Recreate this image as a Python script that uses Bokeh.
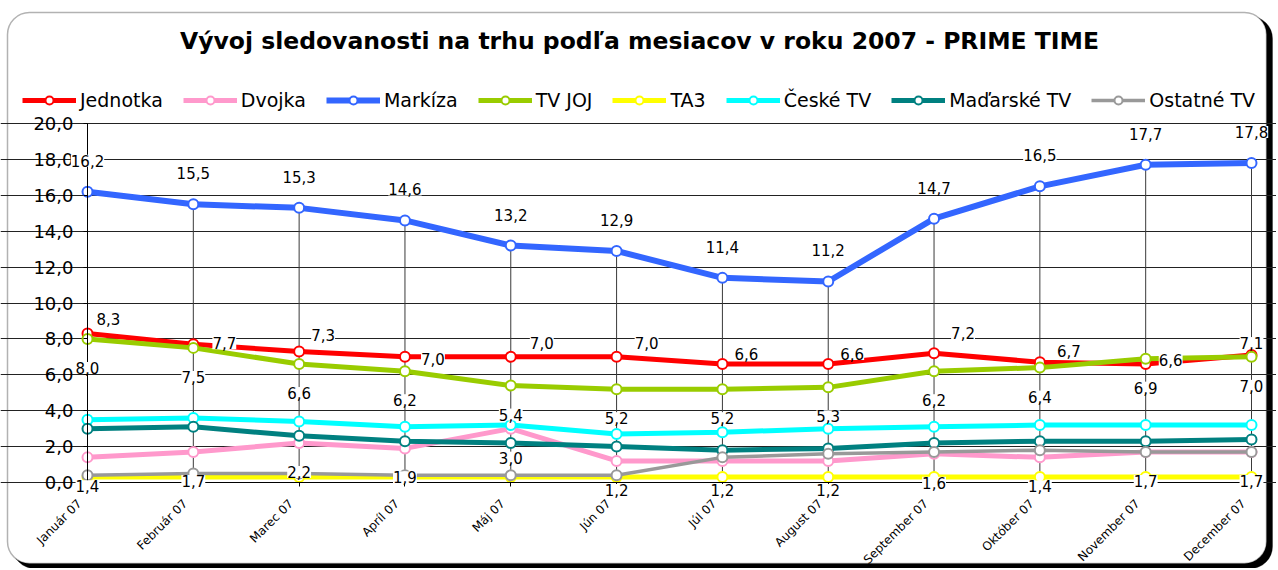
import math
from bokeh.plotting import figure
from bokeh.models import (Range1d, FixedTicker, ColumnDataSource, LabelSet, Label, LinearAxis,
                          Legend, LegendItem, BoxAnnotation)
from bokeh.core.properties import value
from bokeh.embed import file_html
from bokeh.resources import INLINE

# ---------------- data ----------------
months = ["Január 07", "Február 07", "Marec 07", "Apríl 07", "Máj 07", "Jún 07",
          "Júl 07", "August 07", "September 07", "Október 07", "November 07", "December 07"]
jednotka = [8.3, 7.7, 7.3, 7.0, 7.0, 7.0, 6.6, 6.6, 7.2, 6.7, 6.6, 7.1]
dvojka = [1.4, 1.7, 2.2, 1.9, 3.0, 1.2, 1.2, 1.2, 1.6, 1.4, 1.7, 1.7]
markiza = [16.2, 15.5, 15.3, 14.6, 13.2, 12.9, 11.4, 11.2, 14.7, 16.5, 17.7, 17.8]
tv_joj = [8.0, 7.5, 6.6, 6.2, 5.4, 5.2, 5.2, 5.3, 6.2, 6.4, 6.9, 7.0]
ta3 = [0.3, 0.3, 0.3, 0.3, 0.3, 0.3, 0.3, 0.3, 0.3, 0.3, 0.3, 0.3]
ceske_tv = [3.5, 3.6, 3.4, 3.1, 3.2, 2.7, 2.8, 3.0, 3.1, 3.2, 3.2, 3.2]
madarske_tv = [3.0, 3.1, 2.6, 2.3, 2.2, 2.0, 1.8, 1.9, 2.2, 2.3, 2.3, 2.4]
ostatne_tv = [0.4, 0.5, 0.5, 0.4, 0.4, 0.4, 1.4, 1.6, 1.7, 1.8, 1.7, 1.7]
y_ticks = [0, 2, 4, 6, 8, 10, 12, 14, 16, 18, 20]
title_text = "Vývoj sledovanosti na trhu podľa mesiacov v roku 2007 - PRIME TIME"

# label placement (pixel offsets of the data labels, styling only)
jednotka_label_dx = [21, 31, 24, 28, 31, 30, 24, 24, 29, 29, 25, 0]
jednotka_label_dy = [15, 1, 16, -2, 14, 14, 10, 10, 20, 11, 4, 12]

FONT = "DejaVu Sans"
x = list(range(len(months)))

def fmt(v):
    return f"{v:.1f}".replace(".", ",")

# ---------------- layout (pixels) ----------------
W, H = 1276, 568
PL, PR, PT, PB = 87, 1251, 123, 482      # plot area: first/last month, 20 and 0
XMIN, XMAX, YMIN, YMAX = 0, len(months) - 1, 0, 20
xppu = (PR - PL) / (XMAX - XMIN)
yppu = (PB - PT) / (YMAX - YMIN)
x_range = Range1d(XMIN - PL / xppu, XMAX + (W - PR) / xppu)
y_range = Range1d(YMIN - (H - PB) / yppu, YMAX + PT / yppu)

p = figure(width=W, height=H, output_backend="svg", toolbar_location=None,
           x_range=x_range, y_range=y_range,
           min_border=0, min_border_left=0, min_border_right=0, min_border_top=0, min_border_bottom=0,
           background_fill_color="white", border_fill_color="white", outline_line_color=None)

def sy(py):
    return H - py

# rounded border with shadow
shadow = BoxAnnotation(left=12, right=1272, top=sy(16), bottom=sy(568),
                       left_units="screen", right_units="screen", top_units="screen", bottom_units="screen",
                       fill_color="black", fill_alpha=1, line_color="black", line_width=1,
                       border_radius=22, level="image")
frame_box = BoxAnnotation(left=7, right=1266, top=sy(12), bottom=sy(563),
                          left_units="screen", right_units="screen", top_units="screen", bottom_units="screen",
                          fill_color="white", fill_alpha=1, line_color="black", line_width=1.5,
                          border_radius=22, level="image")
p.add_layout(shadow)
p.add_layout(frame_box)

# axes
yax = p.yaxis[0]
yax.fixed_location = XMIN
yax.ticker = FixedTicker(ticks=y_ticks)
yax.major_label_overrides = {t: fmt(t) for t in y_ticks}
yax.bounds = (YMIN, YMAX)
yax.axis_line_color = "black"
yax.major_tick_line_color = "black"
yax.major_tick_out = 4
yax.major_tick_in = 0
yax.minor_tick_line_color = None
yax.major_label_standoff = 10
yax.major_label_text_font = FONT
yax.major_label_text_font_size = "18px"
yax.major_label_text_color = "black"

xax = p.xaxis[0]
xax.fixed_location = YMIN
xax.ticker = FixedTicker(ticks=x)
xax.major_label_overrides = {i: "" for i in x}
xax.major_label_text_color = None
xax.bounds = (XMIN, XMAX)
xax.axis_line_color = "black"
xax.major_tick_line_color = "black"
xax.major_tick_out = 4
xax.major_tick_in = 0
xax.minor_tick_line_color = None

# month labels: a second axis at the month positions, nudged like the reference's slanted labels
LABEL_NUDGE = 8 / xppu
label_ticks = [i - LABEL_NUDGE for i in x]
lab_ax = LinearAxis(fixed_location=YMIN, ticker=FixedTicker(ticks=label_ticks),
                    major_label_overrides={t: m for t, m in zip(label_ticks, months)},
                    axis_line_color=None, major_tick_line_color=None, minor_tick_line_color=None,
                    major_tick_out=0, major_tick_in=0, major_label_standoff=19,
                    major_label_orientation=math.pi / 4, major_label_text_font=FONT,
                    major_label_text_font_size="12px", major_label_text_color="black")
p.add_layout(lab_ax, "below")

p.xgrid.visible = False
p.ygrid.ticker = FixedTicker(ticks=y_ticks)
p.ygrid.bounds = (XMIN, XMAX)
p.ygrid.grid_line_color = "#222222"
p.ygrid.grid_line_width = 1

# drop lines from Markíza
p.segment(x0=x, y0=[YMIN] * len(x), x1=x, y1=markiza, line_color="#3a3a3a", line_width=1)

series = [
    ("Jednotka", jednotka, "#ff0000", 5),
    ("Dvojka", dvojka, "#ff99cc", 5),
    ("Markíza", markiza, "#3366ff", 6),
    ("TV JOJ", tv_joj, "#99cc00", 5),
    ("TA3", ta3, "#ffff00", 5),
    ("České TV", ceske_tv, "#00ffff", 5),
    ("Maďarské TV", madarske_tv, "#008080", 5),
    ("Ostatné TV", ostatne_tv, "#999999", 3.5),
]

items = []
sources = {}
for name, vals, col, lw in series:
    src = ColumnDataSource(dict(x=x, y=vals, t=[fmt(v) for v in vals]))
    sources[name] = src
    l = p.line("x", "y", source=src, line_color=col, line_width=lw)
    s = p.scatter("x", "y", source=src, marker="circle", size=10, fill_color="white",
                  line_color=col, line_width=2)
    items.append(LegendItem(label=name, renderers=[l, s]))

legend = Legend(items=items, orientation="horizontal", location=(22, sy(111)),
                label_text_font=FONT, label_text_font_size="19px", label_text_color="black",
                glyph_width=54, glyph_height=20, label_height=20, label_standoff=4,
                spacing=20, padding=0, margin=0, border_line_color=None,
                background_fill_alpha=0)
p.add_layout(legend)

# data labels
n = len(x)
label_cfg = [
    ("Markíza", [0] * n, [31] * n),
    ("Jednotka", jednotka_label_dx, jednotka_label_dy),
    ("TV JOJ", [0] * n, [-29] * n),
    ("Dvojka", [0] * n, [-29] * n),
]
for name, dxs, dys in label_cfg:
    base = sources[name].data
    lsrc = ColumnDataSource(dict(x=base["x"], y=base["y"], t=base["t"], dx=dxs, dy=dys))
    ls = LabelSet(x="x", y="y", text="t", source=lsrc, x_offset="dx", y_offset="dy",
                  text_align="center", text_baseline="middle",
                  text_font=value(FONT), text_font_size="15px", text_color="black",
                  background_fill_color="white", background_fill_alpha=1)
    p.add_layout(ls)

# title
p.add_layout(Label(x=639, y=sy(40), x_units="screen", y_units="screen", text=title_text,
                   text_align="center", text_baseline="middle", text_font=FONT,
                   text_font_size="23.5px", text_font_style="bold", text_color="black"))

open("out.html", "w").write(file_html(p, INLINE))
